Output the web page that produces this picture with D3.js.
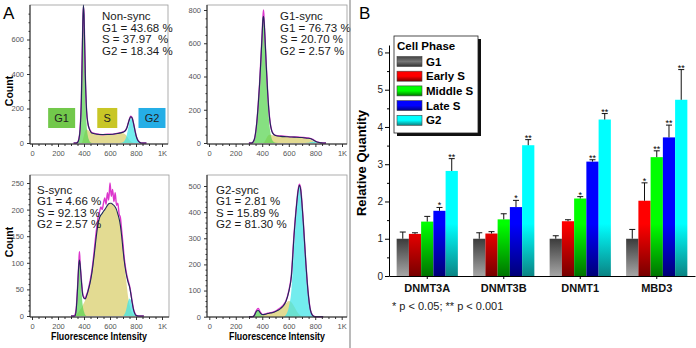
<!DOCTYPE html>
<html>
<head>
<meta charset="utf-8">
<script src="https://cdn.jsdelivr.net/npm/d3@7"></script>
<style>
body { margin:0; background:#ffffff; }
#drawing_region { display:block; font-family: Arial, "Liberation Sans", sans-serif; }
</style>
</head>
<body>
<svg id="drawing_region"></svg>
<script>
// ---------- panel A : DNA content histograms (channel -> count) ----------
// Non-sync
const nsX   = [320,340,350,360,370,380,385,390,395,400,405,410,420,430,440,450,460,480,500,540,580,620,660,690,700,710,720,730,740,750,760,770,780,790,800,810,820,830,840,860,880];
const nsG1  = [0,0,3,20,80,260,450,650,770,700,520,330,110,40,15,5,0, 0,0,0,0,0,0,0,0, 0,0,0,0,0,0,0,0, 0,0,0,0,0,0,0,0];
const nsS   = [0,0,0,0,0,0,5,15,30,45,60,70,78,75,68,62,58,54,51,49,49,51,55,58,57,54,48,38,28,18,10,5,2,0,0,0,0,0,0,0,0];
const nsG2  = [0,0,0,0,0,0,0,0,0,0,0,0,0,0,0,0,0,0,0,0,0,0,0, 2,5,12,25,50,85,120,142,140,115,80,45,22,9,3,0,0,0];
const nsObs = [0,0,4,22,82,265,458,662,790,748,578,395,185,112,86,70,60,56,52,48,51,50,57,62,64,68,75,90,115,140,156,148,118,82,46,23,10,4,1,0,0];

// G1-sync
const g1X   = [300,320,340,350,360,370,380,390,400,405,410,415,420,430,440,450,460,470,480,500,540,580,620,660,700,740,760,780,800,820,840,860,880];
const g1G1  = [0,0,20,60,130,230,350,500,660,740,760,720,640,450,280,150,70,30,12,2, 0,0,0,0,0,0,0,0,0,0,0,0,0];
const g1S   = [0,0,0,0,0,0,0,0,0,0,2,5,10,25,40,48,50,48,46,43,40,38,36,35,33,28,22,12,5,1,0,0,0];
const g1G2  = [0,0,0,0,0,0,0,0,0,0,0,0,0,0,0,0,0,0,0,0,0,0,0,0,0, 1,5,8,6,3,1,0,0];
const g1Obs = [0,0,20,60,128,232,352,505,665,750,800,730,652,478,322,200,122,80,60,46,42,40,37,36,34,31,28,22,12,5,2,0,0];

// S-sync
const ssX   = [300,320,330,340,350,360,365,370,380,390,400,410,420,430,440,450,460,470,480,490,500,510,520,530,540,550,560,570,580,590,600,610,620,630,640,650,660,670,680,690,700,710,720,730,740,750,760,770,780,790,800,820,840,860];
const ssG1  = [0,0,0,10,45,88,95,85,50,20, 8,2,0,0,0,0,0,0,0,0, 0,0,0,0,0,0,0,0,0,0, 0,0,0,0,0,0,0,0,0,0, 0,0,0,0,0,0,0,0,0,0, 0,0,0,0];
const ssS   = [0,0,0,2,5,8,10,12,15,20, 25,30,38,46,55,66,80,98,118,140, 160,175,185,190,193,197,200,204,208,211, 212,212,210,208,205,200,192,183,170,150, 125,100,78,55,35,22,12,6,3,1, 0,0,0,0];
const ssG2  = [0,0,0,0,0,0,0,0,0,0, 0,0,0,0,0,0,0,0,0,0, 0,0,0,0,0,0,0,0,0,0, 0,0,0,0,0,0,0,0,0,0, 0,3,8,18,28,33,30,20,10,4, 1,0,0,0];
const ssObs = [0,0,2,14,52,100,121,100,68,42, 35,33,40,47,58,70,84,103,126,150, 170,188,196,205,200,212,222,210,232,218, 250,225,238,215,232,208,212,192,185,160, 135,108,90,76,66,57,44,28,14,6, 2,0,0,0];

// G2-sync
const g2X   = [300,320,330,340,350,360,370,380,390,400, 420,440,460,480,500,520,540,560,580,600, 620,640,660,670,680,690,700,710,720,730, 740,750,760,770,780,790,800,820,840,860];
const g2G1  = [0,0,0,5,15,22,22,15,8,3, 0,0,0,0,0,0,0,0,0,0, 0,0,0,0,0,0,0,0,0,0, 0,0,0,0,0,0,0,0,0,0];
const g2S   = [0,0,0,0,0,1,2,3,4,5, 9,12,14,16,20,25,32,42,52,60, 55,40,22,14,8,4,2,1,0,0, 0,0,0,0,0,0,0,0,0,0];
const g2G2  = [0,0,0,0,0,0,0,0,0,0, 0,0,0,0,0,0,0,0,8,35, 100,270,410,465,495,482,430,360,280,200, 130,75,35,14,5,1,0,0,0,0];
const g2Obs = [0,0,1,6,18,27,32,22,14,9, 10,13,15,17,21,28,35,45,62,98, 160,315,435,482,507,492,436,364,282,201, 131,76,36,15,6,2,0,0,0,0];

const chanTicks  = [0,200,400,600,800,1000];
const chanLabels = ['0','200','400','600','800','1K'];
const gateNames  = ['G1','S','G2'];
const gateChan   = [228,579,923];

// ---------- panel B : relative quantity ----------
const genes  = ['DNMT3A','DNMT3B','DNMT1','MBD3'];
const phases = ['G1','Early S','Middle S','Late S','G2'];
const qG1 = [1.00,1.00,1.00,1.00];
const qES = [1.13,1.14,1.47,2.02];
const qMS = [1.46,1.52,2.08,3.19];
const qLS = [1.75,1.85,3.07,3.72];
const qG2 = [2.82,3.51,4.20,4.73];
const eG1 = [0.18,0.16,0.08,0.25];
const eES = [0.03,0.05,0.04,0.48];
const eMS = [0.14,0.15,0.05,0.17];
const eLS = [0.09,0.18,0.05,0.33];
const eG2 = [0.33,0.15,0.16,0.81];
const sG1 = ['','','',''];
const sES = ['','','','*'];
const sMS = ['','','*','**'];
const sLS = ['*','*','**','**'];
const sG2 = ['**','**','**','**'];
const qTicks = [0,1,2,3,4,5,6];

const svg = d3.select('#drawing_region')
    .attr('width', 696)
    .attr('height', 348);

class FlowHist {

    constructor( config, data ){
        this.config = config;
        this.data = data;
        this.init();
    }

    init(){
        let self = this;
        let c = self.config;
        self.g = svg.append('g');
        self.xscale = d3.scaleLinear()
            .domain([0, 1000])
            .range([c.x0, c.x1]);
        self.yscale = d3.scaleLinear()
            .domain([0, c.ymax])
            .range([c.y0, c.y1]);
    }

    series( v ){
        return this.data.x.map( (x,i) => ({x:x, v:v[i]}) );
    }

    render(){
        let self = this;
        let c = self.config;
        let d = self.data;

        const area = d3.area()
            .x( p => self.xscale(p.x) )
            .y0( self.yscale(0) )
            .y1( p => self.yscale(p.v) )
            .curve(d3.curveMonotoneX);
        const line = d3.line()
            .x( p => self.xscale(p.x) )
            .y( p => self.yscale(p.v) )
            .curve(d3.curveMonotoneX);

        self.g.append('rect')
            .attr('x', c.left).attr('y', c.top)
            .attr('width', c.right - c.left).attr('height', c.bottom - c.top)
            .attr('fill', 'none').attr('stroke', '#9a9a9a').attr('stroke-width', 0.8);

        [[d.s,'#d8cd68'], [d.g1,'#58d450'], [d.g2,'#3de4e8']].forEach( ([v,col]) => {
            self.g.append('path')
                .attr('d', area(self.series(v)))
                .attr('fill', col)
                .attr('fill-opacity', 0.72);
        });

        const fit = d.x.map( (x,i) => ({x:x, v:d.g1[i] + d.s[i] + d.g2[i]}) );
        self.g.append('path')
            .attr('d', line(self.series(d.obs)))
            .attr('fill', 'none').attr('stroke', '#dc36cc').attr('stroke-width', 1.4);
        self.g.append('path')
            .attr('d', line(fit))
            .attr('fill', 'none').attr('stroke', '#1f2a58').attr('stroke-width', 1.1);

        // axes
        const xaxis = d3.axisBottom(self.xscale)
            .tickValues(chanTicks)
            .tickFormat( (t,i) => chanLabels[i] )
            .tickSize(3).tickPadding(4);
        const xminor = d3.axisBottom(self.xscale)
            .tickValues(d3.range(50, 1000, 50).filter(t => t % 200 != 0))
            .tickFormat('').tickSize(2);
        const yaxis = d3.axisLeft(self.yscale)
            .tickValues(c.yticks)
            .tickSize(3).tickPadding(3);
        const yminor = d3.axisLeft(self.yscale)
            .tickValues(d3.range(c.yminor, c.ymax, c.yminor).filter(t => !c.yticks.includes(t)))
            .tickFormat('').tickSize(1.5);

        [xaxis, xminor].forEach( a => {
            self.g.append('g')
                .attr('transform', `translate(0, ${c.bottom})`)
                .call(a)
                .call(g => g.select('.domain').remove());
        });
        [yaxis, yminor].forEach( a => {
            self.g.append('g')
                .attr('transform', `translate(${c.left}, 0)`)
                .call(a)
                .call(g => g.select('.domain').remove());
        });
        self.g.selectAll('.tick text')
            .attr('font-size', '7.5px').attr('fill', '#555').attr('font-family', 'Arial, "Liberation Sans", sans-serif');
        self.g.selectAll('.tick line').attr('stroke', '#333');

        self.g.append('path')
            .attr('d', `M${c.left},${c.top}V${c.bottom}H${c.right}`)
            .attr('fill', 'none').attr('stroke', '#222').attr('stroke-width', 1);

        // annotation text
        c.lines.forEach( (t,i) => {
            self.g.append('text')
                .attr('x', c.tx)
                .attr('y', c.ty + i * 11.5)
                .attr('font-size', '11.5px')
                .attr('fill', '#1a1a1a')
                .style('white-space', 'pre')
                .text(t);
        });

        if( c.count ){
            self.g.append('text')
                .attr('transform', `translate(13, ${c.countY}) rotate(-90)`)
                .attr('text-anchor', 'middle')
                .attr('font-size', '10.5px').attr('font-weight', 'bold')
                .text('Count');
        }
        if( c.xlabel ){
            self.g.append('text')
                .attr('x', c.xlabelX).attr('y', 340)
                .attr('text-anchor', 'middle')
                .attr('font-size', '10px').attr('font-weight', 'bold')
                .attr('textLength', 96).attr('lengthAdjust', 'spacingAndGlyphs')
                .text('Fluorescence Intensity');
        }
        if( c.gates ){
            const gcol = ['#72c84b', '#c8c626', '#25aee6'];
            const gw = [27, 20, 27];
            gateNames.forEach( (n,i) => {
                const cx = self.xscale(gateChan[i]);
                self.g.append('rect')
                    .attr('x', cx - gw[i]/2).attr('y', self.yscale(203))
                    .attr('width', gw[i]).attr('height', self.yscale(87) - self.yscale(203))
                    .attr('fill', gcol[i]);
                self.g.append('text')
                    .attr('x', cx).attr('y', self.yscale(145) + 4)
                    .attr('text-anchor', 'middle')
                    .attr('font-size', '11px').attr('fill', '#222')
                    .text(n);
            });
        }
    }
}

class BarChart {

    constructor( config ){
        this.config = config;
        this.init();
    }

    init(){
        let self = this;
        let c = self.config;
        self.g = svg.append('g');

        self.xscale = d3.scaleBand()
            .domain(genes)
            .range([c.left, c.right])
            .paddingInner(0.2)
            .paddingOuter(0.1);
        self.pscale = d3.scaleBand()
            .domain(phases)
            .range([0, self.xscale.bandwidth()]);
        self.yscale = d3.scaleLinear()
            .domain([0, 6.2])
            .range([c.bottom, c.top]);

        self.top = ['#000000','#ff0000','#00ff00','#0000ff','#00ffff'];
        self.bot = ['#a6a6a6','#780000','#007400','#000078','#0a8484'];
        self.mid = ['#111111','#ff0000','#00ff00','#0000ff','#00ffff'];

        const defs = svg.append('defs');
        phases.forEach( (p,i) => {
            const gr = defs.append('linearGradient')
                .attr('id', 'bar' + i)
                .attr('gradientUnits', 'userSpaceOnUse')
                .attr('x1', 0).attr('x2', 0)
                .attr('y1', self.yscale(2.8)).attr('y2', self.yscale(0));
            gr.append('stop').attr('offset', 0).attr('stop-color', self.top[i]);
            gr.append('stop').attr('offset', 0.5).attr('stop-color', self.mid[i]);
            gr.append('stop').attr('offset', 1).attr('stop-color', self.bot[i]);
            const lg = defs.append('linearGradient')
                .attr('id', 'leg' + i)
                .attr('x1', 0).attr('x2', 0).attr('y1', 0).attr('y2', 1);
            lg.append('stop').attr('offset', 0).attr('stop-color', i == 0 ? '#444' : self.top[i]);
            lg.append('stop').attr('offset', 0.5).attr('stop-color', i == 0 ? '#777' : self.top[i]);
            lg.append('stop').attr('offset', 1).attr('stop-color', i == 0 ? '#333' : self.bot[i]);
        });
    }

    render(){
        let self = this;
        let c = self.config;
        const vals = [qG1, qES, qMS, qLS, qG2];
        const errs = [eG1, eES, eMS, eLS, eG2];
        const sigs = [sG1, sES, sMS, sLS, sG2];

        const rows = [];
        genes.forEach( (gname,j) => {
            phases.forEach( (p,i) => {
                rows.push({gene:gname, phase:p, i:i, v:vals[i][j], e:errs[i][j], s:sigs[i][j]});
            });
        });

        const bx = d => self.xscale(d.gene) + self.pscale(d.phase);
        const bw = self.pscale.bandwidth();

        self.g.selectAll('.bar')
            .data(rows).join('rect')
            .attr('x', d => bx(d))
            .attr('y', d => self.yscale(d.v))
            .attr('width', bw)
            .attr('height', d => self.yscale(0) - self.yscale(d.v))
            .attr('fill', d => `url(#bar${d.i})`);

        self.g.selectAll('.err')
            .data(rows).join('path')
            .attr('d', d => {
                const cx = bx(d) + bw/2;
                return `M${cx},${self.yscale(d.v)}V${self.yscale(d.v + d.e)}M${cx-3},${self.yscale(d.v + d.e)}H${cx+3}`;
            })
            .attr('stroke', '#111').attr('stroke-width', 1).attr('fill', 'none');

        self.g.selectAll('.sig')
            .data(rows.filter(d => d.s != '')).join('text')
            .attr('x', d => bx(d) + bw/2)
            .attr('y', d => self.yscale(d.v + d.e) + 1)
            .attr('text-anchor', 'middle')
            .attr('font-size', '9px')
            .text(d => d.s);

        // axes
        self.g.append('g')
            .attr('transform', `translate(${c.left}, 0)`)
            .call(d3.axisLeft(self.yscale).tickValues(qTicks).tickFormat(d3.format('d')).tickSize(4).tickPadding(2).tickSizeOuter(0))
            .call(g => g.selectAll('text').attr('font-size', '10px').attr('fill', '#222'));
        self.g.append('g')
            .attr('transform', `translate(${c.left}, 0)`)
            .call(d3.axisLeft(self.yscale).tickValues(d3.range(0.5, 6.2, 1)).tickFormat('').tickSize(2))
            .call(g => g.select('.domain').remove());
        self.g.append('g')
            .attr('transform', `translate(0, ${c.bottom})`)
            .call(d3.axisBottom(self.xscale).tickSize(3).tickPadding(5).tickSizeOuter(0))
            .call(g => g.selectAll('text').attr('font-size', '11px').attr('font-weight', 'bold').attr('fill', '#111'));
        self.g.selectAll('.tick text').attr('font-family', 'Arial, "Liberation Sans", sans-serif');

        self.g.append('text')
            .attr('transform', `translate(366, 163) rotate(-90)`)
            .attr('text-anchor', 'middle')
            .attr('font-size', '13px').attr('font-weight', 'bold')
            .text('Relative Quantity');

        self.g.append('text')
            .attr('x', 392).attr('y', 310)
            .attr('font-size', '11px').attr('fill', '#222')
            .text('* p < 0.05; ** p < 0.001');

        // legend
        const lg = self.g.append('g');
        lg.append('rect').attr('x', 397).attr('y', 39).attr('width', 84).attr('height', 97).attr('fill', '#111');
        lg.append('rect').attr('x', 394).attr('y', 36).attr('width', 84).attr('height', 97)
            .attr('fill', '#fff').attr('stroke', '#222').attr('stroke-width', 0.8);
        lg.append('text').attr('x', 397).attr('y', 49.5)
            .attr('font-size', '11.5px').attr('font-weight', 'bold').text('Cell Phase');
        phases.forEach( (p,i) => {
            lg.append('rect')
                .attr('x', 397).attr('y', 56.5 + i * 14.7)
                .attr('width', 25).attr('height', 10)
                .attr('fill', `url(#leg${i})`).attr('stroke', '#444').attr('stroke-width', 0.6);
            lg.append('text')
                .attr('x', 426).attr('y', 65.5 + i * 14.7)
                .attr('font-size', '11.5px').attr('font-weight', 'bold')
                .text(p);
        });
    }
}

// panel A
const panels = [
    { cfg:{left:30, right:168, top:5, bottom:144, x0:32, x1:162, y0:143, y1:5, ymax:800, yticks:[0,200,400,600], yminor:50,
           tx:102, ty:20, lines:['Non-sync','G1 = 43.68 %','S = 37.97  %','G2 = 18.34 %'], count:true, countY:91, gates:true},
      data:{x:nsX, g1:nsG1, s:nsS, g2:nsG2, obs:nsObs} },
    { cfg:{left:207, right:347, top:5, bottom:144, x0:209, x1:342, y0:143, y1:10, ymax:800, yticks:[0,200,400,600,800], yminor:50,
           tx:280, ty:20, lines:['G1-sync','G1 = 76.73 %','S = 20.70 %','G2 = 2.57 %']},
      data:{x:g1X, g1:g1G1, s:g1S, g2:g1G2, obs:g1Obs} },
    { cfg:{left:30, right:169, top:175, bottom:317, x0:32, x1:162, y0:316, y1:183, ymax:250, yticks:[0,50,100,150,200,250], yminor:10,
           tx:37, ty:193.5, lines:['S-sync','G1 = 4.66 %','S = 92.13 %','G2 = 2.57 %'], count:true, countY:242, xlabel:true, xlabelX:99},
      data:{x:ssX, g1:ssG1, s:ssS, g2:ssG2, obs:ssObs} },
    { cfg:{left:207, right:347, top:175, bottom:317, x0:209.3, x1:341.7, y0:316.7, y1:186, ymax:500, yticks:[0,100,200,300,400,500], yminor:20,
           tx:216, ty:193.5, lines:['G2-sync','G1 = 2.81 %','S = 15.89 %','G2 = 81.30 %'], xlabel:true, xlabelX:277},
      data:{x:g2X, g1:g2G1, s:g2S, g2:g2G2, obs:g2Obs} }
];
panels.forEach( p => {
    const h = new FlowHist(p.cfg, p.data);
    h.render();
});

// divider and panel letters
svg.append('line').attr('x1', 350).attr('x2', 350).attr('y1', 0).attr('y2', 348)
    .attr('stroke', '#8c8c8c').attr('stroke-width', 1.2);
svg.append('text').attr('x', 3).attr('y', 19).attr('font-size', '17px').text('A');
svg.append('text').attr('x', 359).attr('y', 19).attr('font-size', '17px').text('B');

// panel B
const barchart = new BarChart({left:389, right:695, top:45, bottom:276});
barchart.render();
</script>
</body>
</html>
